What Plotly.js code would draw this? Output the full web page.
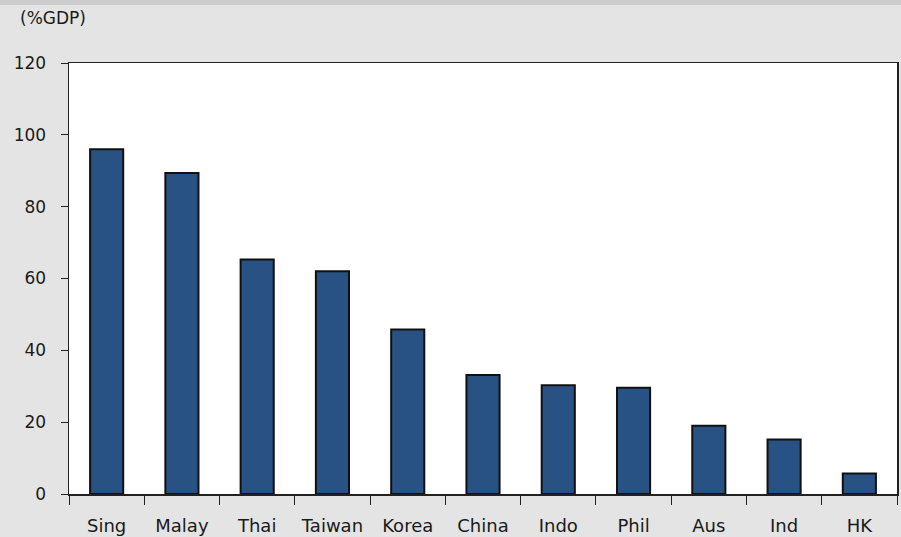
<!DOCTYPE html>
<html>
<head>
<meta charset="utf-8">
<script src="https://cdn.plot.ly/plotly-3.0.1.min.js"></script>
<style>
  html, body { margin: 0; padding: 0; background: #e4e4e4; }
  #chart { width: 901px; height: 537px; }
</style>
</head>
<body>
<div id="chart"></div>
<script>
// Economies on the category axis
const economies = ['Sing', 'Malay', 'Thai', 'Taiwan', 'Korea', 'China', 'Indo', 'Phil', 'Aus', 'Ind', 'HK'];
// Share of GDP, per economy
const shareOfGdp = [96.0, 89.4, 65.3, 62.0, 45.8, 33.1, 30.3, 29.6, 19.0, 15.2, 5.7];
// Value-axis ticks
const yTickValues = [0, 20, 40, 60, 80, 100, 120];
const yUnitLabel = '(%GDP)';

const fontFamily = '"DejaVu Sans", Verdana, sans-serif';
const textColor = '#1a1a1a';

const trace = {
  type: 'bar',
  x: economies,
  y: shareOfGdp,
  marker: { color: '#285283', line: { color: '#111111', width: 2 } },
  hoverinfo: 'x+y'
};

const layout = {
  width: 901,
  height: 537,
  margin: { l: 69, r: 4, t: 63, b: 43 },
  paper_bgcolor: '#e4e4e4',
  plot_bgcolor: '#ffffff',
  font: { family: fontFamily, size: 17, color: textColor },
  showlegend: false,
  bargap: 0.56,
  xaxis: {
    type: 'category',
    showline: true,
    linecolor: '#222222',
    linewidth: 1.5,
    mirror: true,
    ticks: 'outside',
    tickson: 'boundaries',
    ticklen: 9,
    tickcolor: '#222222',
    tickwidth: 1,
    showgrid: false,
    zeroline: false,
    ticklabelstandoff: 15,
    tickfont: { family: fontFamily, size: 18, color: textColor }
  },
  yaxis: {
    range: [0, 120],
    tickvals: yTickValues,
    ticktext: yTickValues.map(String),
    showline: true,
    linecolor: '#222222',
    linewidth: 1.5,
    mirror: true,
    ticks: 'outside',
    ticklen: 7,
    tickcolor: '#222222',
    tickwidth: 1,
    showgrid: false,
    zeroline: false,
    ticklabelstandoff: 11,
    tickfont: { family: fontFamily, size: 17, color: textColor }
  },
  shapes: [
    // thin darker band along the top edge
    { type: 'rect', xref: 'paper', yref: 'paper', x0: -0.1, x1: 1.1,
      y0: 1 + 58 / 431, y1: 1.2, fillcolor: '#cccccc', line: { width: 0 }, layer: 'below' }
  ],
  annotations: [
    { text: yUnitLabel, xref: 'paper', yref: 'paper', x: -0.061, y: 1 + 45 / 431,
      xanchor: 'left', yanchor: 'middle', showarrow: false,
      font: { family: fontFamily, size: 17, color: textColor } }
  ]
};

Plotly.newPlot('chart', [trace], layout, { staticPlot: true, displayModeBar: false });
</script>
</body>
</html>
